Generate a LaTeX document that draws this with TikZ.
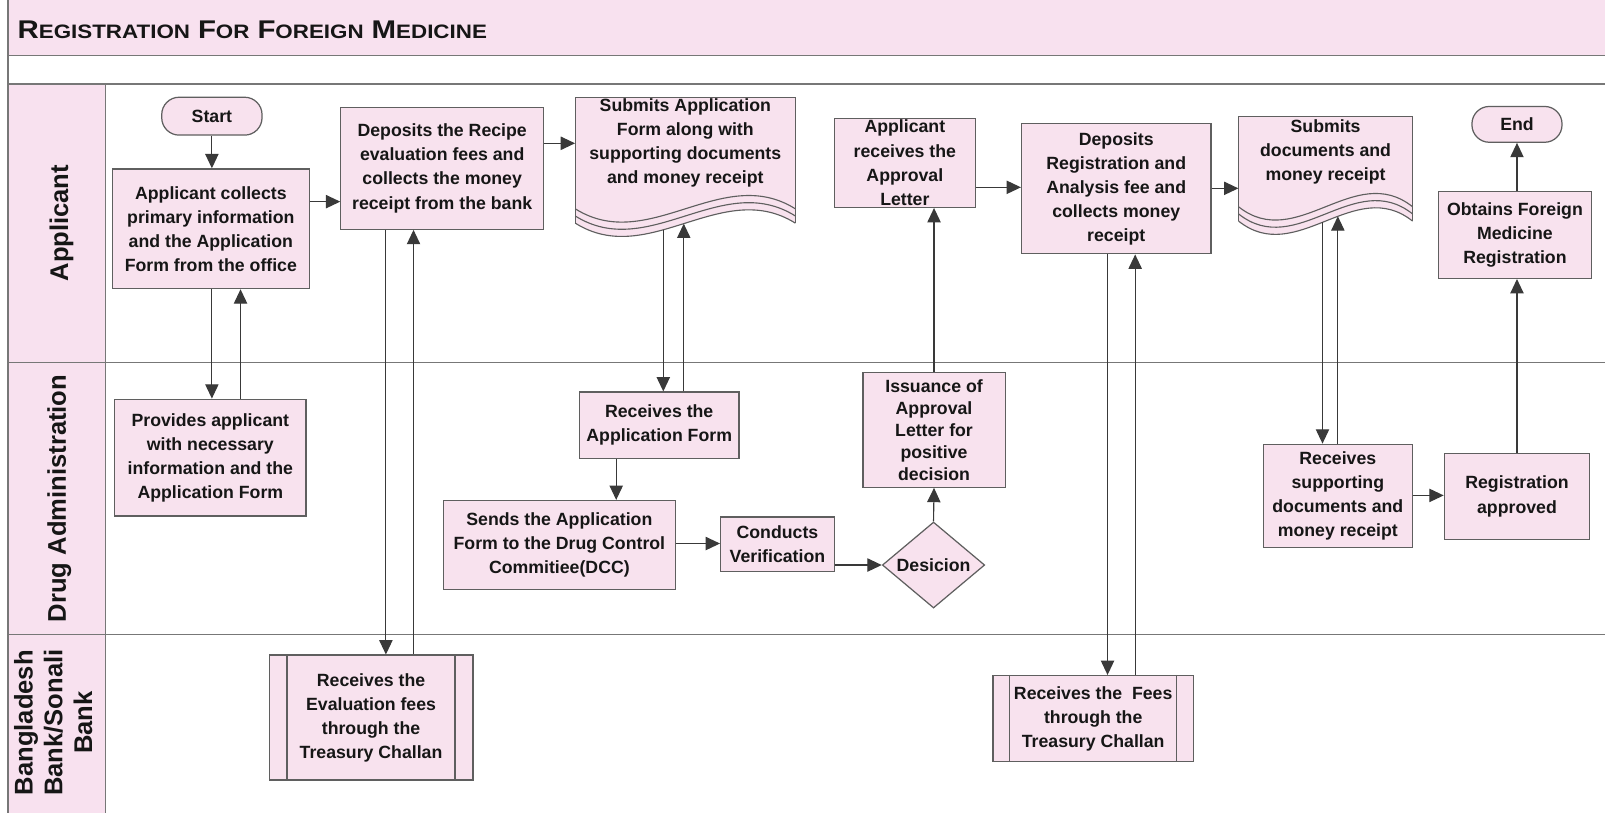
\documentclass[tikz,border=0pt]{standalone}
\usepackage{fontspec}
\setmainfont{Liberation Sans}
\usetikzlibrary{arrows.meta,shapes.geometric}
\definecolor{pinkfill}{RGB}{248,226,238}
\definecolor{bandpink}{RGB}{248,225,239}
\definecolor{edgegray}{RGB}{95,95,95}
\definecolor{inkcol}{RGB}{22,22,22}
\newcommand{\nodefont}{\bfseries\fontsize{17.3}{23.5}\selectfont}
\newcommand{\lanefont}{\bfseries\fontsize{25}{29}\selectfont}
\newcommand{\bigL}[1]{{\fontsize{25}{25}\selectfont #1}}
\newcommand{\smallL}[1]{{\fontsize{19}{19}\selectfont #1}}
\tikzset{
  procbox/.style={draw=edgegray, line width=1.2pt, fill=pinkfill, align=center,
    inner sep=2pt, font=\nodefont, text=inkcol},
  termbox/.style={procbox, rounded corners=17pt},
  docbox/.style={align=center, inner sep=0pt, font=\nodefont, text=inkcol},
  decbox/.style={procbox, diamond, inner sep=0pt},
  flow/.style={draw=inkcol!85, line width=1.1pt, -{Triangle[length=14pt,width=13pt]}},
  frameline/.style={draw=edgegray!85, line width=1.4pt},
  lanelabel/.style={rotate=90, font=\lanefont, text=inkcol, align=center},
}
\begin{document}
\begin{tikzpicture}[x=1pt,y=-1pt]
\useasboundingbox (0,0) rectangle (1568,794);
% background bands
\fill[white] (0,0) rectangle (1568,794);
\fill[bandpink] (8,0) rectangle (1568,54);
\fill[bandpink] (8,82) rectangle (103,794);
\draw[frameline] (8,0) -- (8,794);
\draw[frameline] (8,54) -- (1568,54);
\draw[frameline] (8,82) -- (1568,82);
\draw[frameline] (8,354) -- (1568,354);
\draw[frameline] (8,620) -- (1568,620);
\draw[frameline] (103,82) -- (103,794);
% title
\node[anchor=west, text=inkcol, font=\bfseries, inner sep=0pt] (title) at (17,29)
  {\scalebox{1.15}[1]{\bigL{R}\smallL{EGISTRATION}\hspace{4pt} \bigL{F}\smallL{OR}\hspace{4pt} \bigL{F}\smallL{OREIGN}\hspace{4pt} \bigL{M}\smallL{EDICINE}}};
% lane labels
\node[lanelabel] (lapp) at (60,218) {Applicant};
\node[lanelabel] (ldrug) at (58,487) {Drug Administration};
\node[lanelabel] (lbank) at (52,706) {Bangladesh\\Bank/Sonali\\Bank};

% Applicant lane
\node[termbox, minimum width=98pt, minimum height=37pt] (start) at (207,113.5) {Start};
\node[procbox, minimum width=192pt, minimum height=117pt] (a1) at (206,223.5)
  {Applicant collects\\primary information\\and the Application\\Form from the office};
\node[procbox, minimum width=198pt, minimum height=119pt] (a2) at (432,164.5)
  {Deposits the Recipe\\evaluation fees and\\collects the money\\receipt from the bank};
% document 1
\fill[pinkfill] (562,95) -- (777,95) -- (777,218) .. controls (705.3,173) and (633.7,263) .. (562,218) -- cycle;
\draw[edgegray, line width=1.2pt] (562,218) -- (562,95) -- (777,95) -- (777,218);
\foreach \d in {0,7,14}
  \draw[edgegray, line width=1.1pt] (562,218-\d) .. controls (633.7,263-\d) and (705.3,173-\d) .. (777,218-\d);
\node[docbox, minimum width=215pt] (doc1) at (669.5,140)
  {Submits Application\\Form along with\\supporting documents\\and money receipt};
\coordinate (doc1out) at (648,224.5);
\coordinate (doc1in) at (668,218.5);

\node[procbox, minimum width=138pt, minimum height=84pt] (a3) at (884,159)
  {Applicant\\receives the\\Approval\\Letter};
\node[procbox, minimum width=185pt, minimum height=127pt] (a4) at (1090.5,184.5)
  {Deposits\\Registration and\\Analysis fee and\\collects money\\receipt};
% document 2
\fill[pinkfill] (1210,114) -- (1380,114) -- (1380,216) .. controls (1323.3,171) and (1266.7,261) .. (1210,216) -- cycle;
\draw[edgegray, line width=1.2pt] (1210,216) -- (1210,114) -- (1380,114) -- (1380,216);
\foreach \d in {0,7,14}
  \draw[edgegray, line width=1.1pt] (1210,216-\d) .. controls (1266.7,261-\d) and (1323.3,171-\d) .. (1380,216-\d);
\node[docbox, minimum width=170pt] (doc2) at (1295,148)
  {Submits\\documents and\\money receipt};
\coordinate (doc2out) at (1292,217.2);
\coordinate (doc2in) at (1307,211.3);

\node[termbox, minimum width=88pt, minimum height=35pt] (end) at (1482,121.5) {End};
\node[procbox, minimum width=150pt, minimum height=85pt] (a5) at (1480,229.5)
  {Obtains Foreign\\Medicine\\Registration};

% Drug Administration lane
\node[procbox, minimum width=187pt, minimum height=114pt] (d1) at (205.5,447)
  {Provides applicant\\with necessary\\information and the\\Application Form};
\node[procbox, minimum width=156pt, minimum height=65pt] (d2) at (644,415.5)
  {Receives the\\Application Form};
\node[procbox, minimum width=227pt, minimum height=87pt] (d3) at (546.5,532.5)
  {Sends the Application\\Form to the Drug Control\\Commitiee(DCC)};
\node[procbox, minimum width=111pt, minimum height=53pt] (d4) at (759.5,531.5)
  {Conducts\\Verification};
\node[decbox, minimum width=100pt, minimum height=84pt] (dec) at (912,552)
  {\makebox[0pt]{Desicion}};
\node[procbox, minimum width=139pt, minimum height=112pt,
  font=\bfseries\fontsize{17.3}{21.5}\selectfont] (d5) at (912.5,420)
  {Issuance of\\Approval\\Letter for\\positive\\decision};
\node[procbox, minimum width=146pt, minimum height=101pt] (d6) at (1307,484.5)
  {Receives\\supporting\\documents and\\money receipt};
\node[procbox, minimum width=142pt, minimum height=84pt] (d7) at (1482,485)
  {Registration\\approved};

% Bank lane
\node[procbox, minimum width=199pt, minimum height=122pt] (b1) at (362.5,701)
  {Receives the\\Evaluation fees\\through the\\Treasury Challan};
\draw[edgegray, line width=1.2pt] ([xshift=18pt]b1.north west) -- ([xshift=18pt]b1.south west);
\draw[edgegray, line width=1.2pt] ([xshift=-18pt]b1.north east) -- ([xshift=-18pt]b1.south east);
\node[procbox, minimum width=196pt, minimum height=84pt] (b2) at (1068,702)
  {Receives the\ \ Fees\\through the\\Treasury Challan};
\draw[edgegray, line width=1.2pt] ([xshift=17pt]b2.north west) -- ([xshift=17pt]b2.south west);
\draw[edgegray, line width=1.2pt] ([xshift=-17pt]b2.north east) -- ([xshift=-17pt]b2.south east);

% connectors
\draw[flow] (start.south) -- (start.south |- a1.north);
\draw[flow] (a1.east |- 0,197) -- (a2.west |- 0,197);
\draw[flow] (a1.south -| 207,0) -- (d1.north -| 207,0);
\draw[flow] (d1.north -| 235,0) -- (a1.south -| 235,0);
\draw[flow] (a2.south -| 377,0) -- (b1.north -| 377,0);
\draw[flow] (b1.north -| 404,0) -- (a2.south -| 404,0);
\draw[flow] (a2.east |- 0,140) -- (doc1.west |- 0,140);
\draw[flow] (doc1out) -- (d2.north -| doc1out);
\draw[flow] (d2.north -| doc1in) -- (doc1in);
\draw[flow] (d2.south -| 602,0) -- (d3.north -| 602,0);
\draw[flow] (d3.east |- 0,531) -- (d4.west |- 0,531);
\draw[flow] (d4.east |- dec.west) -- (dec.west);
\draw[flow] (dec.north) -- (d5.south);
\draw[flow] (d5.north) -- (a3.south -| d5.north);
\draw[flow] (a3.east |- 0,183) -- (a4.west |- 0,183);
\draw[flow] (a4.south -| 1082,0) -- (b2.north -| 1082,0);
\draw[flow] (b2.north -| 1109,0) -- (a4.south -| 1109,0);
\draw[flow] (a4.east |- 0,184) -- (doc2.west |- 0,184);
\draw[flow] (doc2out) -- (d6.north -| doc2out);
\draw[flow] (d6.north -| doc2in) -- (doc2in);
\draw[flow] (d6.east |- 0,484) -- (d7.west |- 0,484);
\draw[flow] (d7.north) -- (a5.south -| d7.north);
\draw[flow] (a5.north -| end.south) -- (end.south);
\end{tikzpicture}
\end{document}
